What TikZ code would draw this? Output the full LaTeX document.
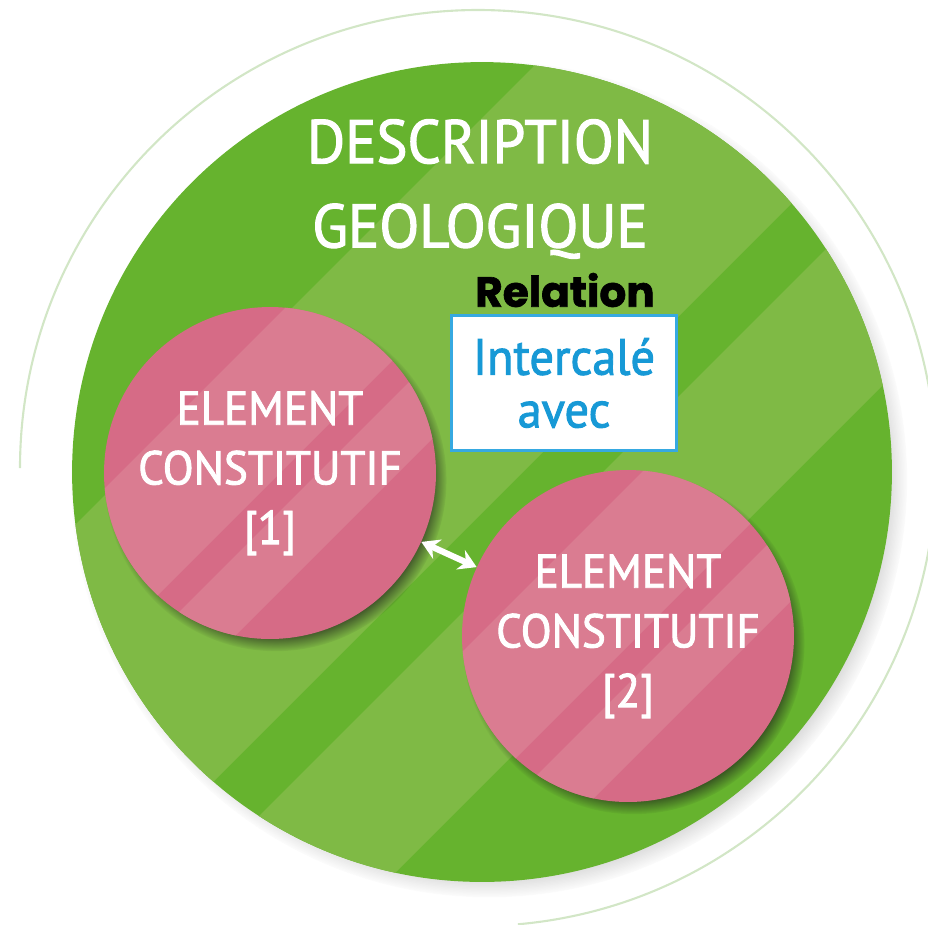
\documentclass[tikz,border=0pt]{standalone}
\usepackage{fontspec}
\usetikzlibrary{shadows,arrows.meta}
\setmainfont{PT Sans}
\newfontfamily\handfont[FakeStretch=0.95, FakeBold=1.8]{PT Sans}
\newfontfamily\heavyfont[FakeBold=1.6]{Poppins}

\definecolor{greendark}{HTML}{66B32E}
\definecolor{greenlight}{HTML}{7FBA45}
\definecolor{pinkdark}{HTML}{D66B86}
\definecolor{pinklight}{HTML}{DA7C91}
\definecolor{boxblue}{HTML}{36A9E1}
\definecolor{textblue}{HTML}{1799D6}
\definecolor{ringgreen}{HTML}{D2E6C6}

% light diagonal bands, given as offsets from the centre of the disc
\newcommand{\drawbands}[2]{%
	\foreach \a/\b in {#2}
	\fill[#1] (path picture bounding box.center) ++({\a+500},-500) -- ++({\b-\a},0) -- ++(-1000,1000) -- ++({\a-\b},0) -- cycle;%
}

\tikzset{
	disc/.style     = {circle, inner sep=0pt, align=center, text=white},
	bigdisc/.style  = {disc, fill=greendark, minimum size=16.4cm,
		circular drop shadow={shadow xshift=0.14cm, shadow yshift=-0.14cm, shadow scale=1.02, fill=black!70, opacity=0.6},
		path picture={\drawbands{greenlight}{-354/41, 121/314}}},
	element/.style  = {disc, fill=pinkdark, minimum size=6.64cm,
		font=\handfont\fontsize{27}{34}\selectfont,
		circular drop shadow={shadow xshift=0.11cm, shadow yshift=-0.14cm, shadow scale=1.03, fill=black!90, opacity=1},
		path picture={\drawbands{pinklight}{-150/10, 48/128}}},
	relbox/.style   = {draw=boxblue, line width=1.5pt, fill=white, minimum width=4.5cm, minimum height=2.7cm,
		align=center, text=textblue, font=\handfont\fontsize{29}{30}\selectfont},
	heading/.style  = {align=center, text=white, font=\handfont\fontsize{35}{48}\selectfont},
	label/.style    = {font=\heavyfont\bfseries\fontsize{24}{26}\selectfont},
}

\begin{document}
\begin{tikzpicture}[x=0.02cm, y=-0.02cm, >={Stealth[length=10pt, width=12pt]}]
	\useasboundingbox (0,0) rectangle (928,924);

	% Outer ring
	\draw[ringgreen, line width=1.2pt] (478,468) ++(180:458) arc[start angle=180, end angle=445, radius=458];

	% Draw the discs and the boxes
	\node[bigdisc] (geology) at (482,472) {};
	\node[heading] (title) at (480,189) {DESCRIPTION\\GEOLOGIQUE};
	\node[label] (relation) at (565,290) {Relation};
	\node[relbox] (linkbox) at (564,383) {Intercalé\\avec};
	\node[element] (elemone) at (270,473) {ELEMENT\\CONSTITUTIF\\{[1]}};
	\node[element] (elemtwo) at (628,636) {ELEMENT\\CONSTITUTIF\\{[2]}};

	% Connect the two elements
	\draw[<->, white, line width=3.5pt] (elemone) -- (elemtwo);
\end{tikzpicture}
\end{document}
